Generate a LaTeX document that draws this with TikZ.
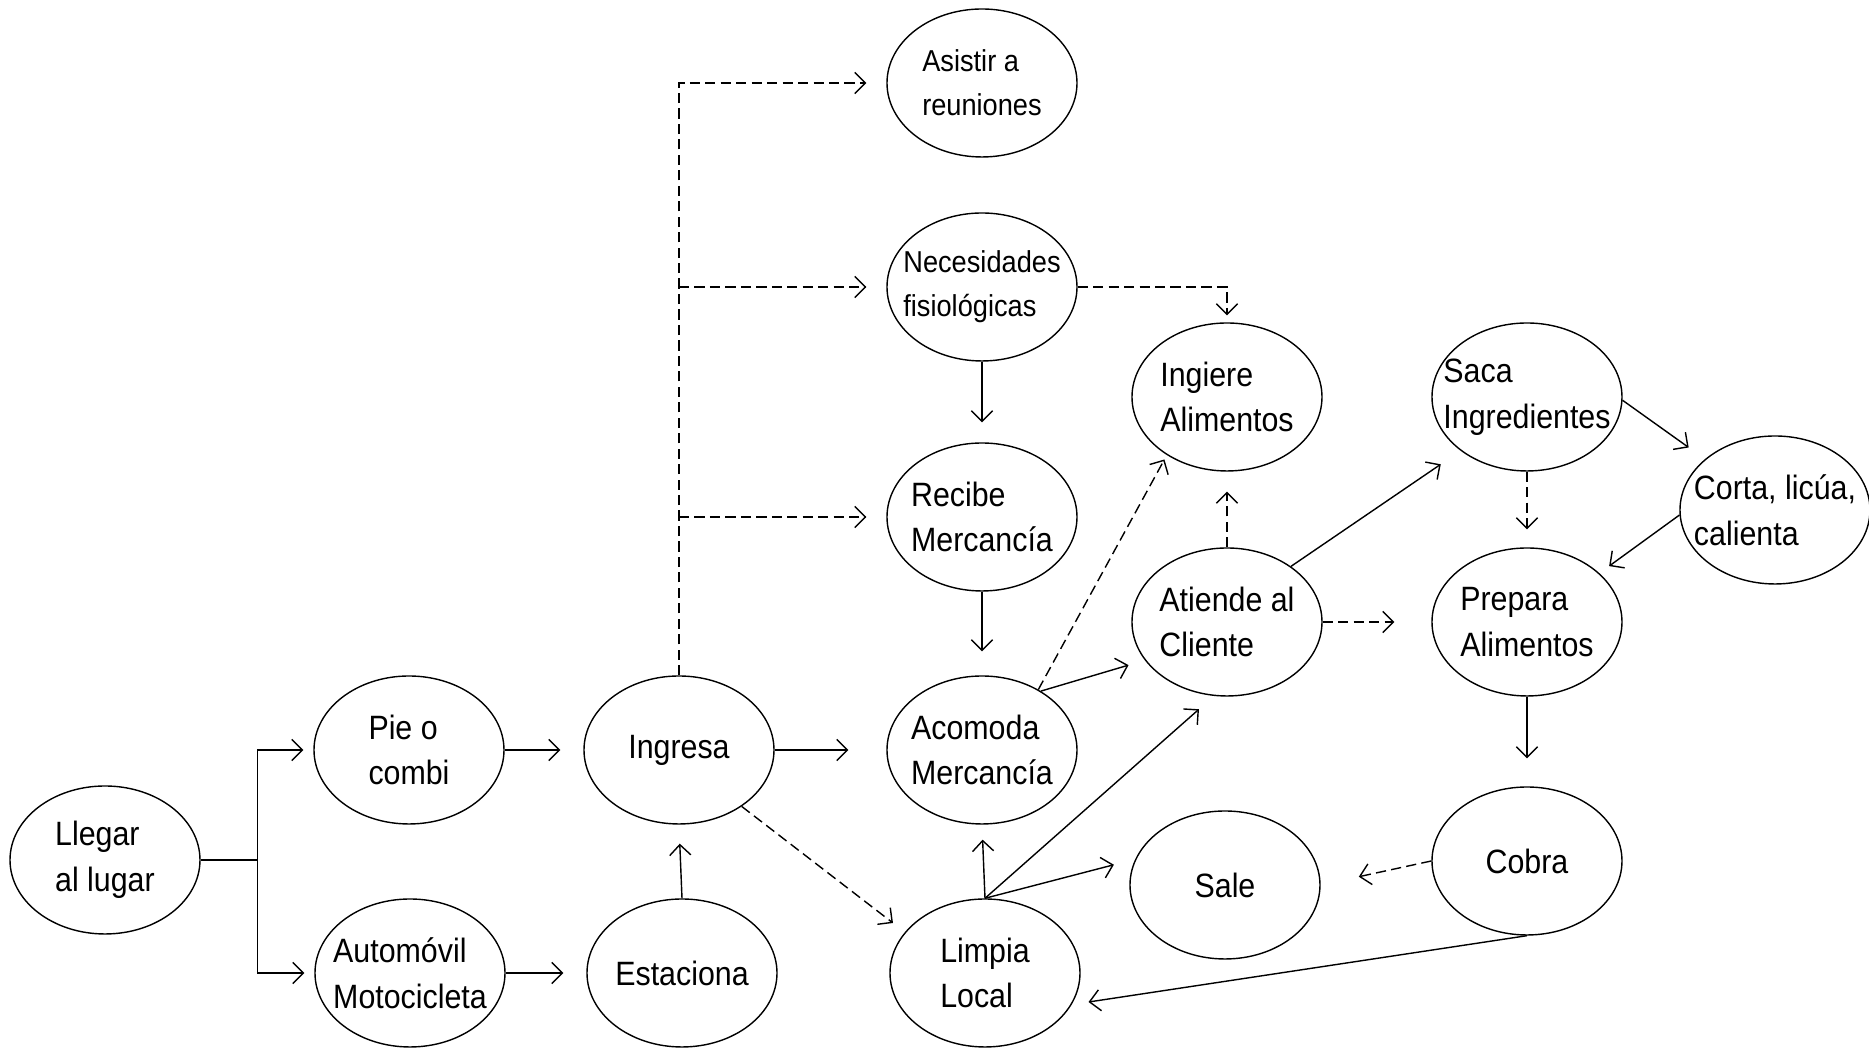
\documentclass[tikz,border=0pt]{standalone}
\usepackage{fontspec}
\setmainfont{Liberation Sans}[FakeStretch=0.9]
\usetikzlibrary{shapes.geometric}
\usetikzlibrary{arrows.meta}
\usetikzlibrary{calc}

\begin{document}
\begin{tikzpicture}[
    >={Straight Barb[length=3pt,width=6pt]},
    line width=0.4pt,
    oval/.style={draw, ellipse, minimum width=1.9cm, minimum height=1.48cm,
        inner xsep=-0.4cm, inner ysep=0pt, align=left,
        font=\fontsize{9.6}{13}\selectfont},
    small/.style={font=\fontsize{8.6}{12.5}\selectfont},
    dashline/.style={dash pattern=on 2.9pt off 1.5pt}
]
    \useasboundingbox (0,0) rectangle (18.69,10.54);

    \node[oval] (llegar) at (1.05,1.94) {Llegar\\al lugar};
    \node[oval] (pie) at (4.09,3.04) {Pie o\\combi};
    \node[oval] (auto) at (4.10,0.81) {Automóvil\\Motocicleta};
    \node[oval] (ingresa) at (6.79,3.04) {Ingresa};
    \node[oval] (estaciona) at (6.82,0.81) {Estaciona};
    \node[oval, small] (asistir) at (9.82,9.71) {Asistir a\\reuniones};
    \node[oval, small] (necesidades) at (9.82,7.67) {Necesidades\\fisiológicas};
    \node[oval] (recibe) at (9.82,5.37) {Recibe\\Mercancía};
    \node[oval] (acomoda) at (9.82,3.04) {Acomoda\\Mercancía};
    \node[oval] (limpia) at (9.85,0.81) {Limpia\\Local};
    \node[oval] (ingiere) at (12.27,6.57) {Ingiere\\Alimentos};
    \node[oval] (atiende) at (12.27,4.32) {Atiende al\\Cliente};
    \node[oval] (sale) at (12.25,1.69) {Sale};
    \node[oval] (saca) at (15.27,6.57) {Saca\\Ingredientes};
    \node[oval] (prepara) at (15.27,4.32) {Prepara\\Alimentos};
    \node[oval] (cobra) at (15.27,1.93) {Cobra};
    \node[oval] (corta) at (17.75,5.44) {Corta, licúa,\\calienta};

    \coordinate (split) at ($(llegar.east)+(0.57,0)$);
    \draw (llegar.east) -- (split);
    \draw[->, shorten >=0.1cm] (split) |- (pie.west);
    \draw[->, shorten >=0.1cm] (split) |- (auto.west);
    \draw[->, shorten >=0.23cm] (pie.east) -- (ingresa.west);
    \draw[->, shorten >=0.23cm] (auto.east) -- (estaciona.west);
    \draw[->, shorten >=0.19cm] (estaciona.north) -- (ingresa.south);
    \draw[->, shorten >=0.38cm] (ingresa.east) -- (acomoda.west);

    \draw[dashline, ->, shorten >=0.2cm] (ingresa.north) |- (asistir.west);
    \draw[dashline, ->, shorten >=0.2cm] (ingresa.north |- necesidades.west) -- (necesidades.west);
    \draw[dashline, ->, shorten >=0.2cm] (ingresa.north |- recibe.west) -- (recibe.west);
    \draw[dashline, ->, shorten >=0.15cm] (ingresa.-42) -- (limpia.153);

    \draw[->, shorten >=0.2cm] (necesidades.south) -- (recibe.north);
    \draw[->, shorten >=0.24cm] (recibe.south) -- (acomoda.north);
    \draw[dashline, ->, shorten >=0.07cm] (necesidades.east) -| (ingiere.north);

    \draw[dashline, ->, shorten >=0.05cm] (acomoda.47) -- (ingiere.224);
    \draw[->, shorten >=0.17cm] (acomoda.45) -- (atiende.205);
    \draw[dashline, ->, shorten >=0.2cm] (atiende.north) -- (ingiere.south);
    \draw[->, shorten >=0.24cm] (atiende.41) -- (saca.219);
    \draw[dashline, ->, shorten >=0.37cm] (atiende.east) -- (prepara.west);

    \draw[->, shorten >=0.2cm] (saca.-2) -- (corta.144);
    \draw[dashline, ->, shorten >=0.18cm] (saca.south) -- (prepara.north);
    \draw[->, shorten >=0.12cm] (corta.183) -- (prepara.34);
    \draw[->, shorten >=0.28cm] (prepara.south) -- (cobra.north);
    \draw[dashline, ->, shorten >=0.39cm] (cobra.west) -- (sale.east);
    \draw[->, shorten >=0.17cm] (cobra.south) -- (limpia.-20);

    \draw[->, shorten >=0.15cm] (limpia.north) -- (acomoda.south);
    \draw[->, shorten >=0.2cm] (limpia.north) -- (atiende.260);
    \draw[->, shorten >=0.22cm] (limpia.north) -- (sale.164);
\end{tikzpicture}
\end{document}
